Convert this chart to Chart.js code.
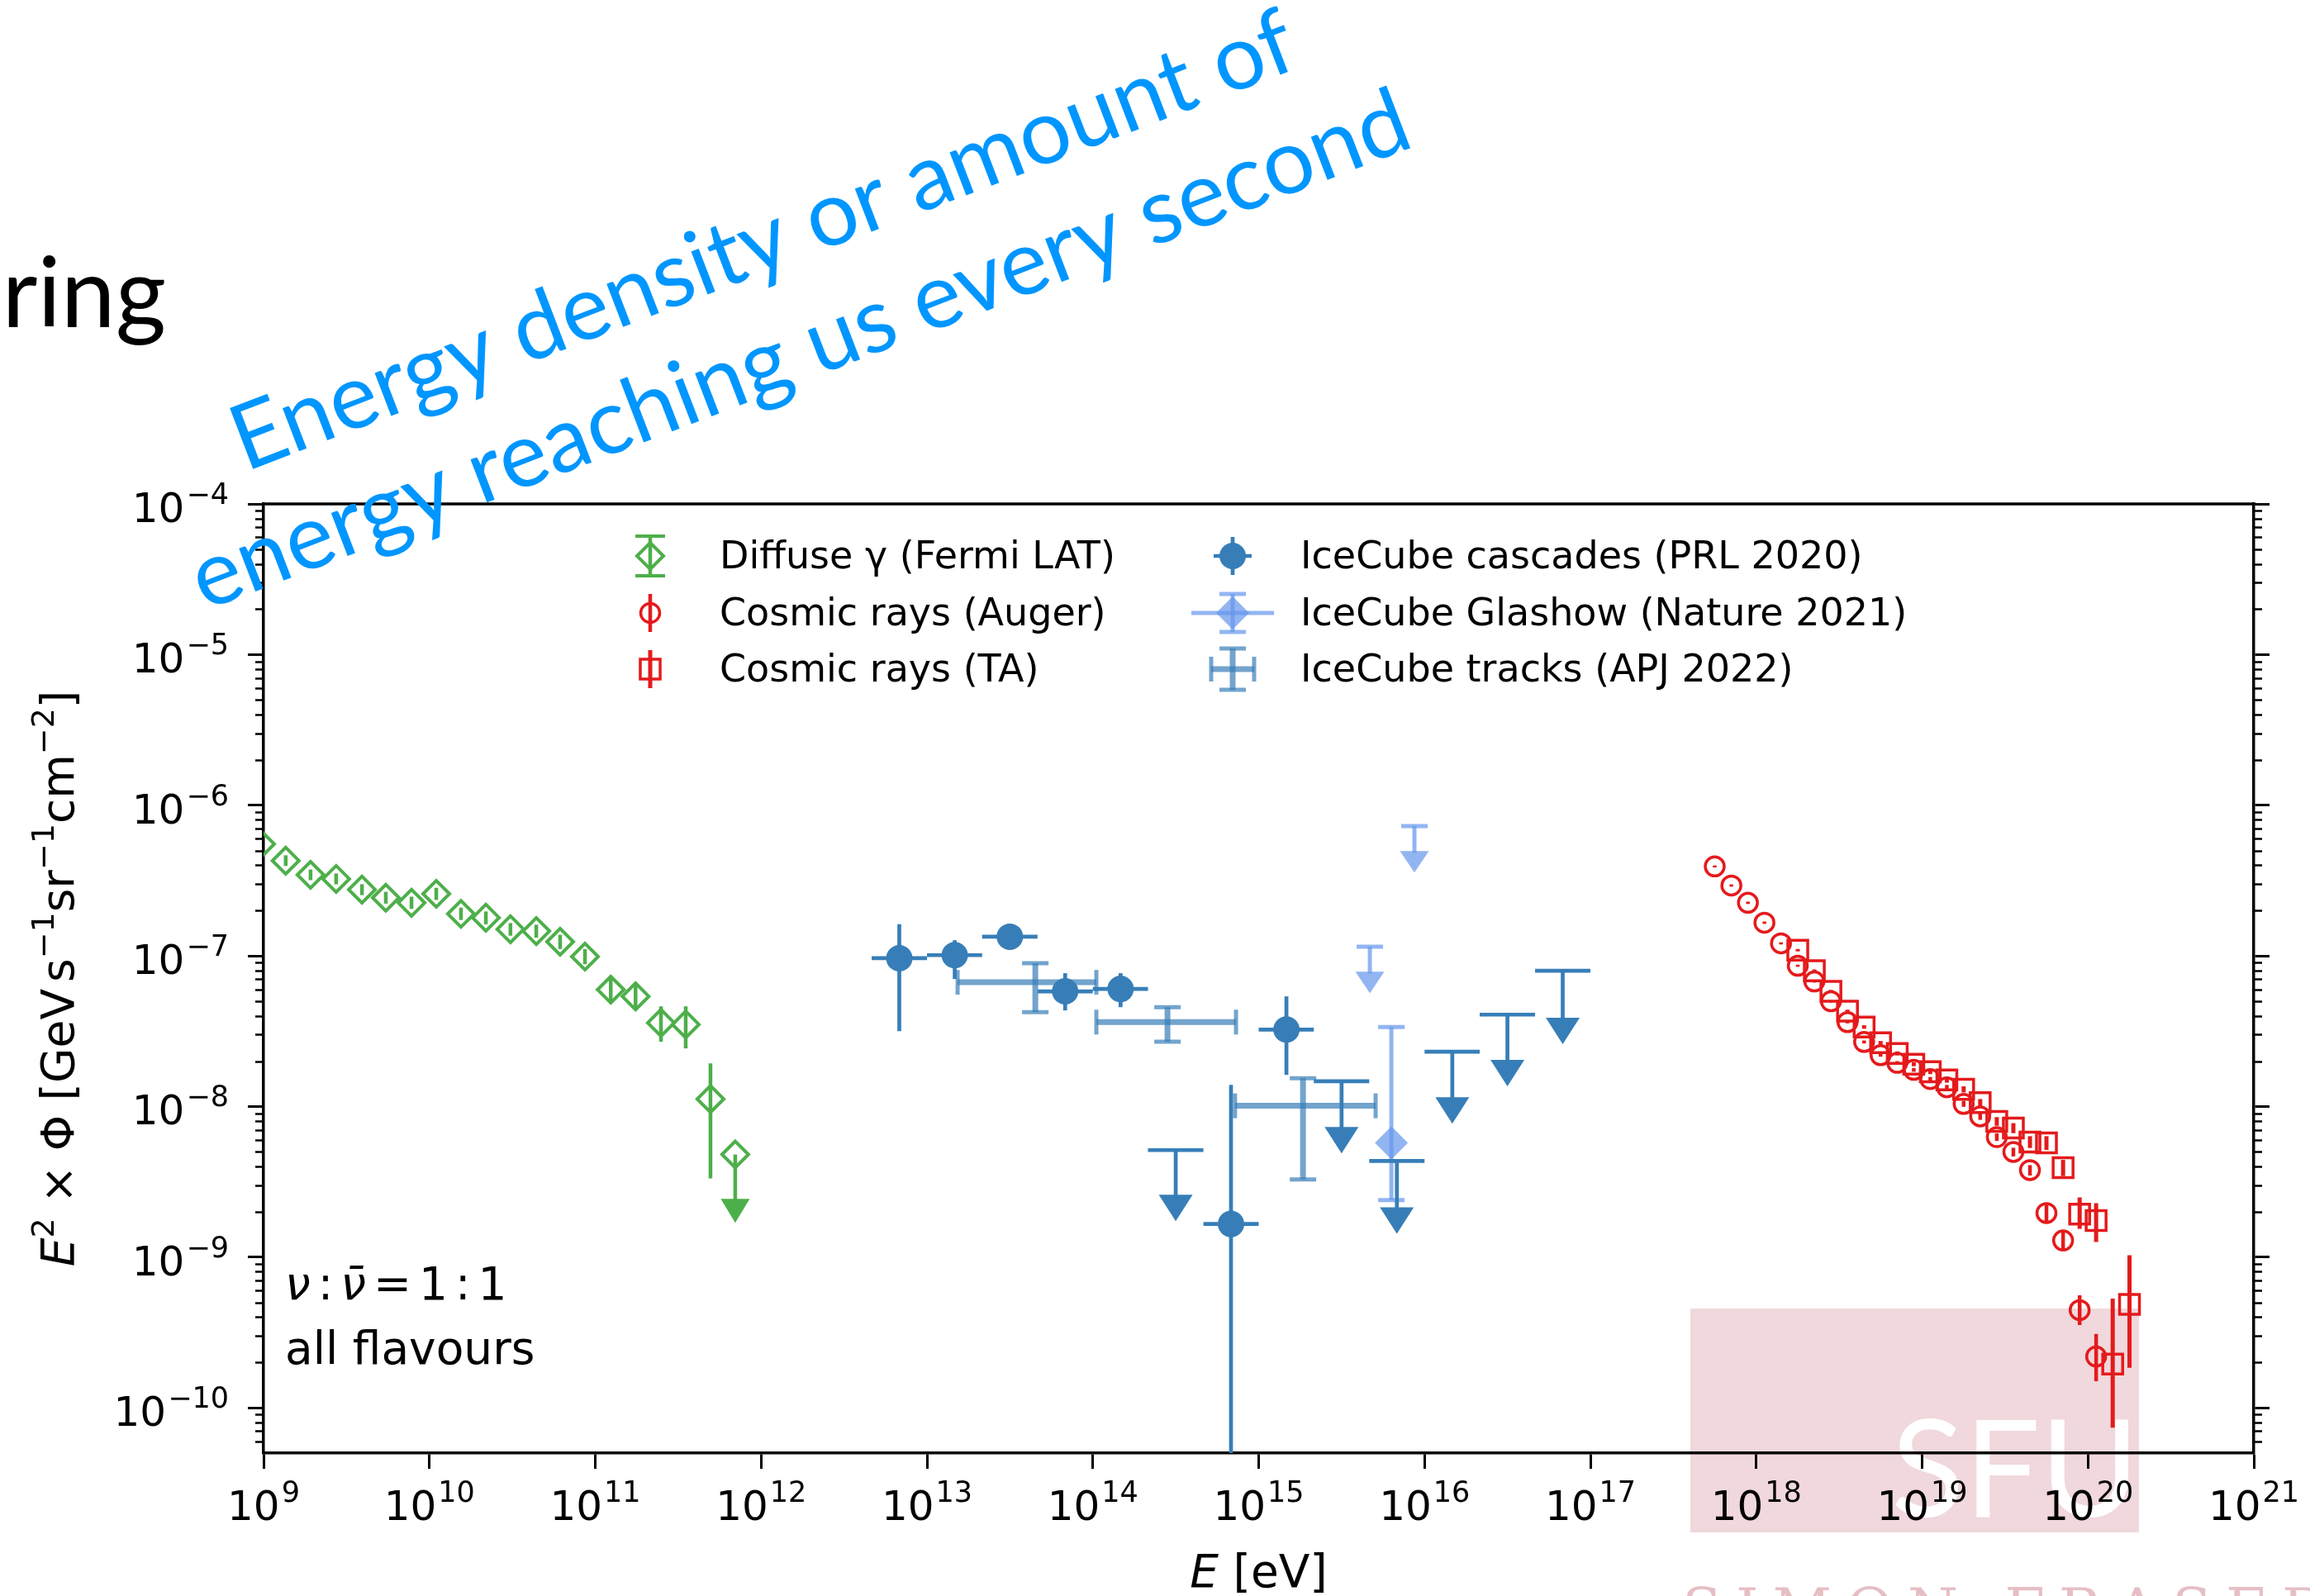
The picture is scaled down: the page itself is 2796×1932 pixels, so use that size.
<!DOCTYPE html>
<html>
<head>
<meta charset="utf-8">
<title>Diffuse neutrino, gamma-ray and cosmic-ray energy flux</title>
<script src="https://cdn.jsdelivr.net/npm/chart.js@4.4.1/dist/chart.umd.min.js"></script>
<style>
  html, body { margin: 0; padding: 0; background: #ffffff; }
  canvas { display: block; }
</style>
</head>
<body>
<canvas id="fluxChart" width="2796" height="1932"></canvas>
<script>
// Energies in eV, fluxes as E^2 x Phi in GeV s^-1 sr^-1 cm^-2

// Fermi LAT diffuse gamma rays (last point is an upper limit)
const fermiEnergy = [9.66e8, 1.36e9, 1.92e9, 2.74e9, 3.92e9, 5.46e9, 7.80e9, 1.10e10, 1.55e10, 2.19e10, 3.08e10, 4.41e10, 6.14e10, 8.67e10, 1.24e11, 1.75e11, 2.49e11, 3.51e11, 4.95e11, 6.98e11];
const fermiFlux = [5.52e-7, 4.28e-7, 3.45e-7, 3.24e-7, 2.75e-7, 2.43e-7, 2.25e-7, 2.58e-7, 1.90e-7, 1.79e-7, 1.50e-7, 1.46e-7, 1.24e-7, 9.88e-8, 5.96e-8, 5.38e-8, 3.59e-8, 3.50e-8, 1.12e-8, 4.80e-9];
const fermiLow = [5.10e-7, 3.95e-7, 3.18e-7, 2.98e-7, 2.53e-7, 2.22e-7, 2.05e-7, 2.35e-7, 1.73e-7, 1.62e-7, 1.36e-7, 1.32e-7, 1.11e-7, 8.80e-8, 4.90e-8, 4.40e-8, 2.69e-8, 2.43e-8, 3.33e-9, 1.69e-9];
const fermiHigh = [6.00e-7, 4.65e-7, 3.74e-7, 3.52e-7, 2.99e-7, 2.66e-7, 2.47e-7, 2.83e-7, 2.09e-7, 1.97e-7, 1.65e-7, 1.61e-7, 1.38e-7, 1.11e-7, 7.20e-8, 6.50e-8, 4.62e-8, 4.62e-8, 1.93e-8, 4.80e-9];
const fermiLimit = [0, 0, 0, 0, 0, 0, 0, 0, 0, 0, 0, 0, 0, 0, 0, 0, 0, 0, 0, 1];

// Pierre Auger cosmic-ray spectrum
const augerEnergy = [5.62e17, 7.08e17, 8.91e17, 1.12e18, 1.41e18, 1.78e18, 2.24e18, 2.82e18, 3.55e18, 4.47e18, 5.62e18, 7.08e18, 8.91e18, 1.12e19, 1.41e19, 1.78e19, 2.24e19, 2.82e19, 3.55e19, 4.47e19, 5.62e19, 7.08e19, 8.91e19, 1.12e20];
const augerFlux = [3.92e-7, 2.93e-7, 2.25e-7, 1.66e-7, 1.21e-7, 8.59e-8, 6.76e-8, 4.99e-8, 3.63e-8, 2.68e-8, 2.19e-8, 1.95e-8, 1.75e-8, 1.52e-8, 1.34e-8, 1.04e-8, 8.59e-9, 6.26e-9, 4.99e-9, 3.78e-9, 1.96e-9, 1.29e-9, 4.45e-10, 2.19e-10];
const augerLow = [3.86e-7, 2.88e-7, 2.21e-7, 1.63e-7, 1.19e-7, 8.45e-8, 6.64e-8, 4.90e-8, 3.56e-8, 2.62e-8, 2.14e-8, 1.90e-8, 1.70e-8, 1.47e-8, 1.29e-8, 9.95e-9, 8.15e-9, 5.90e-9, 4.66e-9, 3.48e-9, 1.72e-9, 1.10e-9, 3.54e-10, 1.50e-10];
const augerHigh = [3.98e-7, 2.98e-7, 2.29e-7, 1.69e-7, 1.23e-7, 8.73e-8, 6.88e-8, 5.08e-8, 3.70e-8, 2.74e-8, 2.24e-8, 2.00e-8, 1.80e-8, 1.57e-8, 1.39e-8, 1.09e-8, 9.03e-9, 6.62e-9, 5.32e-9, 4.08e-9, 2.22e-9, 1.50e-9, 5.58e-10, 3.09e-10];

// Telescope Array cosmic-ray spectrum
const taEnergy = [1.78e18, 2.24e18, 2.82e18, 3.55e18, 4.47e18, 5.62e18, 7.08e18, 8.91e18, 1.12e19, 1.41e19, 1.78e19, 2.24e19, 2.82e19, 3.55e19, 4.47e19, 5.62e19, 7.08e19, 8.91e19, 1.12e20, 1.41e20, 1.78e20];
const taFlux = [1.09e-7, 7.96e-8, 5.81e-8, 4.29e-8, 3.37e-8, 2.65e-8, 2.25e-8, 1.91e-8, 1.70e-8, 1.50e-8, 1.30e-8, 1.06e-8, 7.96e-9, 7.19e-9, 5.81e-9, 5.73e-9, 3.92e-9, 1.93e-9, 1.75e-9, 1.95e-10, 4.86e-10];
const taLow = [1.07e-7, 7.80e-8, 5.68e-8, 4.19e-8, 3.28e-8, 2.58e-8, 2.18e-8, 1.85e-8, 1.64e-8, 1.44e-8, 1.24e-8, 1.00e-8, 7.45e-9, 6.65e-9, 5.30e-9, 5.15e-9, 3.45e-9, 1.54e-9, 1.26e-9, 7.38e-11, 1.84e-10];
const taHigh = [1.11e-7, 8.12e-8, 5.94e-8, 4.39e-8, 3.46e-8, 2.72e-8, 2.32e-8, 1.97e-8, 1.76e-8, 1.56e-8, 1.36e-8, 1.12e-8, 8.50e-9, 7.75e-9, 6.35e-9, 6.35e-9, 4.42e-9, 2.49e-9, 2.28e-9, 5.31e-10, 1.03e-9];

// IceCube cascades, one point per energy bin (flagged bins are upper limits)
const cascadeEnergy = [6.81e12, 1.47e13, 3.16e13, 6.81e13, 1.47e14, 3.16e14, 6.81e14, 1.47e15, 3.16e15, 6.81e15, 1.47e16, 3.16e16, 6.81e16];
const cascadeBinLow = [4.64e12, 1.00e13, 2.15e13, 4.64e13, 1.00e14, 2.15e14, 4.64e14, 1.00e15, 2.15e15, 4.64e15, 1.00e16, 2.15e16, 4.64e16];
const cascadeBinHigh = [1.00e13, 2.15e13, 4.64e13, 1.00e14, 2.15e14, 4.64e14, 1.00e15, 2.15e15, 4.64e15, 1.00e16, 2.15e16, 4.64e16, 1.00e17];
const cascadeFlux = [9.64e-8, 1.01e-7, 1.34e-7, 5.81e-8, 6.03e-8, 5.13e-9, 1.66e-9, 3.24e-8, 1.47e-8, 4.35e-9, 2.31e-8, 4.07e-8, 7.96e-8];
const cascadeLow = [3.16e-8, 7.02e-8, 1.22e-7, 4.34e-8, 4.56e-8, 1.73e-9, 1.0e-12, 1.62e-8, 4.88e-9, 1.43e-9, 7.69e-9, 1.36e-8, 2.59e-8];
const cascadeHigh = [1.62e-7, 1.27e-7, 1.47e-7, 7.67e-8, 7.67e-8, 5.13e-9, 1.39e-8, 5.38e-8, 1.47e-8, 4.35e-9, 2.31e-8, 4.07e-8, 7.96e-8];
const cascadeLimit = [0, 0, 0, 0, 0, 1, 0, 0, 1, 1, 1, 1, 1];

// IceCube Glashow resonance event plus the two neighbouring upper limits
const glashowEnergy = [4.68e15, 6.31e15, 8.69e15];
const glashowFlux = [1.15e-7, 5.73e-9, 7.26e-7];
const glashowLow = [5.66e-8, 2.39e-9, 3.57e-7];
const glashowHigh = [1.15e-7, 3.37e-8, 7.26e-7];
const glashowLimit = [1, 0, 1];

// IceCube through-going tracks
const trackEnergy = [4.50e13, 2.82e14, 1.85e15];
const trackBinLow = [1.53e13, 1.05e14, 7.20e14];
const trackBinHigh = [1.05e14, 7.30e14, 5.07e15];
const trackFlux = [6.67e-8, 3.63e-8, 1.01e-8];
const trackLow = [4.23e-8, 2.69e-8, 3.28e-9];
const trackHigh = [8.93e-8, 4.56e-8, 1.54e-8];

// axes
const xMin = 1e9, xMax = 1e21;
const yMin = 5e-11, yMax = 1e-4;
const xTickExponents = [9, 10, 11, 12, 13, 14, 15, 16, 17, 18, 19, 20, 21];
const yTickExponents = [-10, -9, -8, -7, -6, -5, -4];
const minorSteps = [2, 3, 4, 5, 6, 7, 8, 9];

const GREEN = '#4daf4a';
const RED = '#e41a1c';
const BLUE = '#377eb8';
const CORNFLOWER = '#6495ed';

function toPoints(xs, ys) {
    return xs.map((x, i) => ({x: x, y: ys[i]}));
}

function strokeLine(ctx, x0, y0, x1, y1) {
    ctx.beginPath();
    ctx.moveTo(x0, y0);
    ctx.lineTo(x1, y1);
    ctx.stroke();
}

function drawMarker(ctx, m, x, y) {
    ctx.beginPath();
    if (m.style === 'circle') {
        ctx.arc(x, y, m.r, 0, Math.PI * 2);
    } else if (m.style === 'rectRot') {
        ctx.moveTo(x - m.r, y);
        ctx.lineTo(x, y - m.r);
        ctx.lineTo(x + m.r, y);
        ctx.lineTo(x, y + m.r);
        ctx.closePath();
    } else if (m.style === 'rect') {
        const h = m.r * Math.SQRT1_2;
        ctx.rect(x - h, y - h, 2 * h, 2 * h);
    } else {
        return;
    }
    if (m.fill) {
        ctx.fillStyle = m.fill;
        ctx.fill();
    }
    if (m.lw) {
        ctx.strokeStyle = m.stroke;
        ctx.lineWidth = m.lw;
        ctx.stroke();
    }
}

// text made of runs with different fonts (italic symbols, superscripts)
function runsWidth(ctx, runs) {
    let w = 0;
    runs.forEach((r) => {
        if (r.gap) { w += r.gap; return; }
        ctx.font = r.f;
        w += ctx.measureText(r.t).width;
    });
    return w;
}

function drawRuns(ctx, runs, x, y) {
    let cx = x;
    runs.forEach((r) => {
        if (r.gap) { cx += r.gap; return; }
        ctx.font = r.f;
        ctx.fillText(r.t, cx, y + (r.dy || 0));
        cx += ctx.measureText(r.t).width;
    });
}

// "10" with a raised exponent, like a log-axis tick label
const TICK_BASE = "50px 'DejaVu Sans'";
const TICK_SUP = "35px 'DejaVu Sans'";
function powerRuns(value) {
    const exp = Math.round(Math.log10(value));
    return [{t: '10', f: TICK_BASE}, {gap: 2}, {t: String(exp).replace('-', '−'), f: TICK_SUP, dy: -22}];
}

// error bars, caps and upper-limit arrows, drawn just before each dataset's markers
const errorBarPlugin = {
    id: 'errorBars',
    beforeDatasetDraw(chart, args) {
        const ds = chart.data.datasets[args.index];
        const eb = ds.errorBars;
        if (!eb) return;
        const ctx = chart.ctx;
        const area = chart.chartArea;
        const xs = chart.scales.x;
        const ys = chart.scales.y;

        ctx.save();
        ctx.beginPath();
        ctx.rect(area.left, area.top, area.right - area.left, area.bottom - area.top);
        ctx.clip();
        ctx.globalAlpha = eb.alpha || 1;
        ctx.strokeStyle = eb.color;
        ctx.fillStyle = eb.color;
        ctx.lineCap = 'butt';

        ds.data.forEach((p, i) => {
            const px = xs.getPixelForValue(p.x);
            const py = ys.getPixelForValue(p.y);
            const isLimit = eb.limit && eb.limit[i];

            if (eb.xLow) {
                const x0 = xs.getPixelForValue(eb.xLow[i]);
                const x1 = xs.getPixelForValue(eb.xHigh[i]);
                ctx.lineWidth = eb.width;
                strokeLine(ctx, x0, py, x1, py);
                if (eb.xCap) {
                    ctx.lineWidth = eb.capWidth;
                    strokeLine(ctx, x0, py - eb.xCap, x0, py + eb.xCap);
                    strokeLine(ctx, x1, py - eb.xCap, x1, py + eb.xCap);
                }
            }
            if (eb.yLow) {
                const yBottom = ys.getPixelForValue(eb.yLow[i]);
                const yTop = ys.getPixelForValue(eb.yHigh[i]);
                ctx.lineWidth = eb.width;
                if (isLimit) {
                    const a = eb.arrow;
                    strokeLine(ctx, px, yTop, px, yBottom - a.h + 2);
                    ctx.beginPath();
                    ctx.moveTo(px - a.w / 2, yBottom - a.h);
                    ctx.lineTo(px + a.w / 2, yBottom - a.h);
                    ctx.lineTo(px, yBottom);
                    ctx.closePath();
                    ctx.fill();
                    if (eb.yCap) {
                        ctx.lineWidth = eb.capWidth;
                        strokeLine(ctx, px - eb.yCap, yTop, px + eb.yCap, yTop);
                    }
                } else {
                    strokeLine(ctx, px, yBottom, px, yTop);
                    if (eb.yCap) {
                        ctx.lineWidth = eb.capWidth;
                        strokeLine(ctx, px - eb.yCap, yTop, px + eb.yCap, yTop);
                        strokeLine(ctx, px - eb.yCap, yBottom, px + eb.yCap, yBottom);
                    }
                }
            }
        });
        ctx.restore();
    }
};

// top spine, minor ticks, tick labels, legend, axis titles and the in-plot note
const legendSlots = [
    {x: 787, y: 673, tx: 871, ty: 688},
    {x: 787, y: 742, tx: 871, ty: 757},
    {x: 787, y: 810, tx: 871, ty: 825},
    {x: 1492, y: 673, tx: 1574, ty: 688},
    {x: 1492, y: 742, tx: 1574, ty: 757},
    {x: 1492, y: 810, tx: 1574, ty: 825}
];

const axesExtrasPlugin = {
    id: 'axesExtras',
    afterDatasetsDraw(chart) {
        const ctx = chart.ctx;
        const area = chart.chartArea;
        const xs = chart.scales.x;
        const ys = chart.scales.y;

        ctx.save();
        ctx.strokeStyle = '#000';
        ctx.lineWidth = 3.5;
        strokeLine(ctx, area.left - 1.75, area.top, area.right + 1.75, area.top);

        // minor ticks on both vertical spines
        ctx.lineWidth = 2.5;
        for (let e = -11; e <= -5; e++) {
            minorSteps.forEach((k) => {
                const v = k * Math.pow(10, e);
                if (v < yMin || v > yMax) return;
                const py = Math.round(ys.getPixelForValue(v)) + 0.5;
                strokeLine(ctx, area.left - 10, py, area.left, py);
                strokeLine(ctx, area.right, py, area.right + 10, py);
            });
        }
        ctx.restore();

        // tick labels at the scales' major ticks
        ctx.save();
        ctx.fillStyle = '#000';
        ctx.textAlign = 'left';
        ctx.textBaseline = 'alphabetic';
        xs.ticks.forEach((t) => {
            const runs = powerRuns(t.value);
            const w = runsWidth(ctx, runs);
            drawRuns(ctx, runs, xs.getPixelForValue(t.value) - w / 2, area.bottom + 81);
        });
        ys.ticks.forEach((t) => {
            const runs = powerRuns(t.value);
            const w = runsWidth(ctx, runs);
            drawRuns(ctx, runs, area.left - 42 - w, ys.getPixelForValue(t.value) + 22);
        });
        ctx.restore();

        // legend, two columns
        ctx.save();
        chart.data.datasets.forEach((ds, i) => {
            const slot = legendSlots[i];
            const g = ds.legendGlyph;
            const eb = ds.errorBars;
            ctx.save();
            ctx.globalAlpha = eb.alpha || 1;
            ctx.strokeStyle = eb.color;
            ctx.lineWidth = eb.width;
            if (g.horiz) {
                strokeLine(ctx, slot.x - g.horiz, slot.y, slot.x + g.horiz, slot.y);
                if (g.horizCap) {
                    ctx.lineWidth = eb.capWidth;
                    strokeLine(ctx, slot.x - g.horiz, slot.y - g.horizCap, slot.x - g.horiz, slot.y + g.horizCap);
                    strokeLine(ctx, slot.x + g.horiz, slot.y - g.horizCap, slot.x + g.horiz, slot.y + g.horizCap);
                }
            }
            ctx.lineWidth = eb.width;
            if (g.vert) {
                strokeLine(ctx, slot.x, slot.y - g.vert, slot.x, slot.y + g.vert);
                if (g.vertCap) {
                    ctx.lineWidth = eb.capWidth;
                    strokeLine(ctx, slot.x - g.vertCap, slot.y - g.vert, slot.x + g.vertCap, slot.y - g.vert);
                    strokeLine(ctx, slot.x - g.vertCap, slot.y + g.vert, slot.x + g.vertCap, slot.y + g.vert);
                }
            }
            ctx.restore();
            if (g.marker) drawMarker(ctx, g.marker, slot.x, slot.y);

            ctx.fillStyle = '#000';
            ctx.font = "46px 'DejaVu Sans'";
            ctx.textAlign = 'left';
            ctx.textBaseline = 'alphabetic';
            ctx.fillText(ds.label, slot.tx, slot.ty);
        });
        ctx.restore();

        // axis titles
        const REG = "55px 'DejaVu Sans'";
        const ITA = "italic 55px 'DejaVu Sans'";
        const SUPF = "38px 'DejaVu Sans'";
        ctx.save();
        ctx.fillStyle = '#000';
        ctx.textBaseline = 'alphabetic';
        ctx.textAlign = 'left';

        const xTitle = [{t: 'E', f: ITA}, {t: ' [eV]', f: REG}];
        const xw = runsWidth(ctx, xTitle);
        drawRuns(ctx, xTitle, (area.left + area.right) / 2 - xw / 2, 1921);

        const yTitle = [
            {t: 'E', f: ITA}, {t: '2', f: SUPF, dy: -24},
            {t: ' × Φ [GeV', f: REG}, {gap: 8}, {t: 's', f: REG}, {t: '−1', f: SUPF, dy: -24},
            {t: 'sr', f: REG}, {t: '−1', f: SUPF, dy: -24},
            {t: 'cm', f: REG}, {t: '−2', f: SUPF, dy: -24}, {t: ']', f: REG}
        ];
        const yw = runsWidth(ctx, yTitle);
        ctx.save();
        ctx.translate(89, (area.top + area.bottom) / 2);
        ctx.rotate(-Math.PI / 2);
        drawRuns(ctx, yTitle, -yw / 2, 0);
        ctx.restore();

        // neutrino composition note
        drawRuns(ctx, [
            {t: 'ν', f: ITA}, {gap: 9}, {t: ':', f: REG}, {gap: 9},
            {t: 'ν\u0304', f: ITA}, {gap: 9}, {t: '=', f: REG}, {gap: 9},
            {t: '1', f: REG}, {gap: 9}, {t: ':', f: REG}, {gap: 9}, {t: '1', f: REG}
        ], 345, 1573);
        ctx.font = REG;
        ctx.fillText('all flavours', 345, 1651);
        ctx.restore();
    }
};

// slide elements around the figure: logo underneath, heading fragment and blue note on top
const slidePlugin = {
    id: 'slideOverlay',
    beforeDraw(chart) {
        const ctx = chart.ctx;
        ctx.save();
        ctx.fillStyle = 'rgba(166, 25, 46, 0.17)';
        ctx.fillRect(2046, 1584, 543, 271);
        ctx.fillStyle = '#ffffff';
        ctx.font = "163px Lato";
        ctx.textAlign = 'left';
        ctx.textBaseline = 'alphabetic';
        ctx.fillText('SFU', 2289, 1836);
        ctx.fillStyle = 'rgba(166, 25, 46, 0.28)';
        ctx.font = "70px 'DejaVu Serif'";
        ctx.letterSpacing = '17px';
        ctx.fillText('SIMON FRASER', 2036, 1972);
        ctx.restore();
    },
    afterDraw(chart) {
        const ctx = chart.ctx;
        ctx.save();

        ctx.fillStyle = '#000';
        ctx.font = "118px Lato";
        ctx.textAlign = 'right';
        ctx.textBaseline = 'alphabetic';
        ctx.fillText('ring', 201, 396);

        // rotated blue annotation
        const angle = -21 * Math.PI / 180;
        ctx.fillStyle = '#0096ff';
        ctx.font = "110px Lato";
        ctx.textAlign = 'center';
        ctx.save();
        ctx.translate(936, 326);
        ctx.rotate(angle);
        ctx.fillText('Energy density or amount of', 0, 0);
        ctx.restore();
        ctx.save();
        ctx.translate(981, 458);
        ctx.rotate(angle);
        ctx.fillText('energy reaching us every second', 0, 0);
        ctx.restore();

        ctx.restore();
    }
};

function majorTicks(exponents) {
    return (scale) => {
        scale.ticks = exponents.map((e) => ({value: Math.pow(10, e)}));
    };
}

const axisBorder = {display: true, color: '#000', width: 3.5};
const axisGrid = {display: true, drawOnChartArea: false, drawTicks: true, tickLength: 19, tickWidth: 3, tickColor: '#000'};

const datasets = [
    {
        label: 'Diffuse γ (Fermi LAT)',
        data: toPoints(fermiEnergy, fermiFlux),
        pointStyle: 'rectRot',
        pointRadius: 16,
        pointBorderWidth: 4,
        pointBorderColor: GREEN,
        pointBackgroundColor: 'rgba(0,0,0,0)',
        errorBars: {yLow: fermiLow, yHigh: fermiHigh, limit: fermiLimit, color: GREEN, width: 4.5, capWidth: 4, arrow: {w: 35, h: 29}},
        legendGlyph: {vert: 24, vertCap: 18, marker: {style: 'rectRot', r: 16, stroke: GREEN, lw: 4}}
    },
    {
        label: 'Cosmic rays (Auger)',
        data: toPoints(augerEnergy, augerFlux),
        pointStyle: 'circle',
        pointRadius: 11.5,
        pointBorderWidth: 3.5,
        pointBorderColor: RED,
        pointBackgroundColor: 'rgba(0,0,0,0)',
        errorBars: {yLow: augerLow, yHigh: augerHigh, color: RED, width: 4.5, capWidth: 4},
        legendGlyph: {vert: 23, marker: {style: 'circle', r: 11.5, stroke: RED, lw: 3.5}}
    },
    {
        label: 'Cosmic rays (TA)',
        data: toPoints(taEnergy, taFlux),
        pointStyle: 'rect',
        pointRadius: 17,
        pointBorderWidth: 3.5,
        pointBorderColor: RED,
        pointBackgroundColor: 'rgba(0,0,0,0)',
        errorBars: {yLow: taLow, yHigh: taHigh, color: RED, width: 5, capWidth: 4},
        legendGlyph: {vert: 23, marker: {style: 'rect', r: 17, stroke: RED, lw: 3.5}}
    },
    {
        label: 'IceCube cascades (PRL 2020)',
        data: toPoints(cascadeEnergy, cascadeFlux),
        pointStyle: 'circle',
        pointRadius: (c) => (cascadeLimit[c.dataIndex] ? 0 : 16),
        pointBorderWidth: 0,
        pointBackgroundColor: BLUE,
        errorBars: {xLow: cascadeBinLow, xHigh: cascadeBinHigh, yLow: cascadeLow, yHigh: cascadeHigh, limit: cascadeLimit, color: BLUE, width: 4.7, capWidth: 4, arrow: {w: 41, h: 32}},
        legendGlyph: {vert: 23, horiz: 23, marker: {style: 'circle', r: 16, fill: BLUE}}
    },
    {
        label: 'IceCube Glashow (Nature 2021)',
        data: toPoints(glashowEnergy, glashowFlux),
        pointStyle: 'rectRot',
        pointRadius: (c) => (glashowLimit[c.dataIndex] ? 0 : 20),
        pointBorderWidth: 0,
        pointBackgroundColor: 'rgba(100, 149, 237, 0.7)',
        errorBars: {yLow: glashowLow, yHigh: glashowHigh, limit: glashowLimit, color: CORNFLOWER, alpha: 0.7, width: 5, capWidth: 5, yCap: 16, arrow: {w: 35, h: 26}},
        legendGlyph: {vert: 23, vertCap: 16, horiz: 50, marker: {style: 'rectRot', r: 20, fill: 'rgba(100, 149, 237, 0.7)'}}
    },
    {
        label: 'IceCube tracks (APJ 2022)',
        data: toPoints(trackEnergy, trackFlux),
        pointRadius: 0,
        errorBars: {xLow: trackBinLow, xHigh: trackBinHigh, yLow: trackLow, yHigh: trackHigh, color: BLUE, alpha: 0.7, width: 7, capWidth: 5, xCap: 15, yCap: 16},
        legendGlyph: {vert: 25, vertCap: 16, horiz: 26, horizCap: 15}
    }
];

datasets.forEach((ds) => {
    ds.showLine = false;
    ds.clip = 0;
});

new Chart(document.getElementById('fluxChart').getContext('2d'), {
    type: 'scatter',
    data: {datasets: datasets},
    options: {
        responsive: false,
        animation: false,
        devicePixelRatio: 1,
        events: [],
        layout: {padding: {top: 610, left: 0, right: 0, bottom: 0}},
        plugins: {
            legend: {display: false},
            tooltip: {enabled: false}
        },
        scales: {
            x: {
                type: 'logarithmic',
                position: 'bottom',
                min: xMin,
                max: xMax,
                afterBuildTicks: majorTicks(xTickExponents),
                afterFit: (scale) => { scale.height = 173; },
                border: axisBorder,
                grid: axisGrid,
                ticks: {display: false, autoSkip: false}
            },
            y: {
                type: 'logarithmic',
                position: 'left',
                min: yMin,
                max: yMax,
                afterBuildTicks: majorTicks(yTickExponents),
                afterFit: (scale) => { scale.width = 319; },
                border: axisBorder,
                grid: axisGrid,
                ticks: {display: false, autoSkip: false}
            },
            yRight: {
                type: 'logarithmic',
                position: 'right',
                min: yMin,
                max: yMax,
                afterBuildTicks: majorTicks(yTickExponents),
                afterFit: (scale) => { scale.width = 68; },
                border: axisBorder,
                grid: axisGrid,
                ticks: {display: false}
            }
        }
    },
    plugins: [errorBarPlugin, axesExtrasPlugin, slidePlugin]
});
</script>
</body>
</html>
